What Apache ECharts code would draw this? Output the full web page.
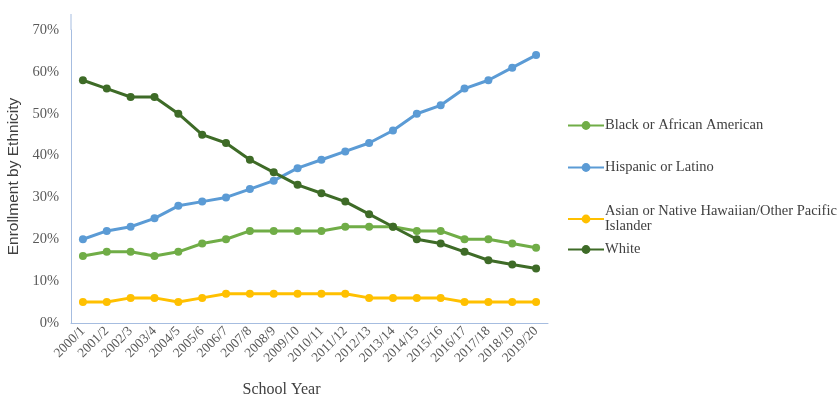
<!DOCTYPE html>
<html><head><meta charset="utf-8">
<script src="https://cdn.jsdelivr.net/npm/echarts@6/dist/echarts.min.js"></script>
<style>html,body{margin:0;padding:0;background:#fff}#c{width:840px;height:397px}</style>
</head><body><div id="c"></div>
<script>
const categories = ['2000/1','2001/2','2002/3','2003/4','2004/5','2005/6','2006/7','2007/8','2008/9','2009/10','2010/11','2011/12','2012/13','2013/14','2014/15','2015/16','2016/17','2017/18','2018/19','2019/20'];
const black = [16,17,17,16,17,19,20,22,22,22,22,23,23,23,22,22,20,20,19,18];
const hispanic = [20,22,23,25,28,29,30,32,34,37,39,41,43,46,50,52,56,58,61,64];
const asian = [5,5,6,6,5,6,7,7,7,7,7,7,6,6,6,6,5,5,5,5];
const white = [58,56,54,54,50,45,43,39,36,33,31,29,26,23,20,19,17,15,14,13];
const yTicks = [0,10,20,30,40,50,60,70];
const names = ['Black or African American','Hispanic or Latino','Asian or Native Hawaiian/Other Pacific\nIslander','White'];
const colors = ['#70ad47','#5b9bd5','#ffc000','#3e6b27'];
const serif = '"Liberation Serif", "DejaVu Serif", serif';
const chart = echarts.init(document.getElementById('c'));
const datas = [black, hispanic, asian, white];
const legendTops = [113, 155, 199, 237];
chart.setOption({
  animation: false,
  grid: {left: 71, right: 292, top: 30, bottom: 74, containLabel: false, outerBoundsMode: 'none'},
  xAxis: {
    type: 'category', data: categories, boundaryGap: true,
    name: 'School Year', nameLocation: 'middle', nameGap: 59,
    nameTextStyle: {fontFamily: serif, fontSize: 16, color: '#404040', padding: [0, 56, 0, 0]},
    axisLine: {lineStyle: {color: '#a6bde0', width: 1}},
    axisTick: {show: false},
    axisLabel: {rotate: 45, fontFamily: serif, fontSize: 13.5, color: '#595959', margin: 6, interval: 0}
  },
  yAxis: {
    type: 'value', min: 0, max: 70, interval: 10,
    name: 'Enrollment by Ethnicity', nameLocation: 'middle', nameGap: 48,
    nameTextStyle: {fontFamily: '"Liberation Sans", Arial, sans-serif', fontSize: 15.5, color: '#404040'},
    axisLine: {show: true, lineStyle: {color: '#a6bde0', width: 1}},
    axisTick: {show: false},
    splitLine: {show: false},
    axisLabel: {fontFamily: serif, fontSize: 14.5, color: '#595959', margin: 12,
      formatter: v => yTicks.includes(v) ? v + '%' : ''}
  },
  legend: names.map((n, i) => ({
    data: [n], orient: 'vertical', left: 562, top: legendTops[i],
    itemWidth: 36, itemHeight: 11, itemGap: 4,
    textStyle: {fontFamily: serif, fontSize: 14.5, color: '#404040', lineHeight: 15, padding: [0,0,0,-4]}
  })),
  graphic: [{type: 'line', shape: {x1: 71, y1: 14, x2: 71, y2: 30}, style: {stroke: '#a6bde0', lineWidth: 1}}],
  series: names.map((n, i) => ({
    name: n, type: 'line', data: datas[i],
    symbol: 'circle', symbolSize: 8,
    lineStyle: {width: 3, color: colors[i]},
    itemStyle: {color: colors[i]},
    z: i === 3 ? 5 : 2
  }))
});
</script></body></html>
